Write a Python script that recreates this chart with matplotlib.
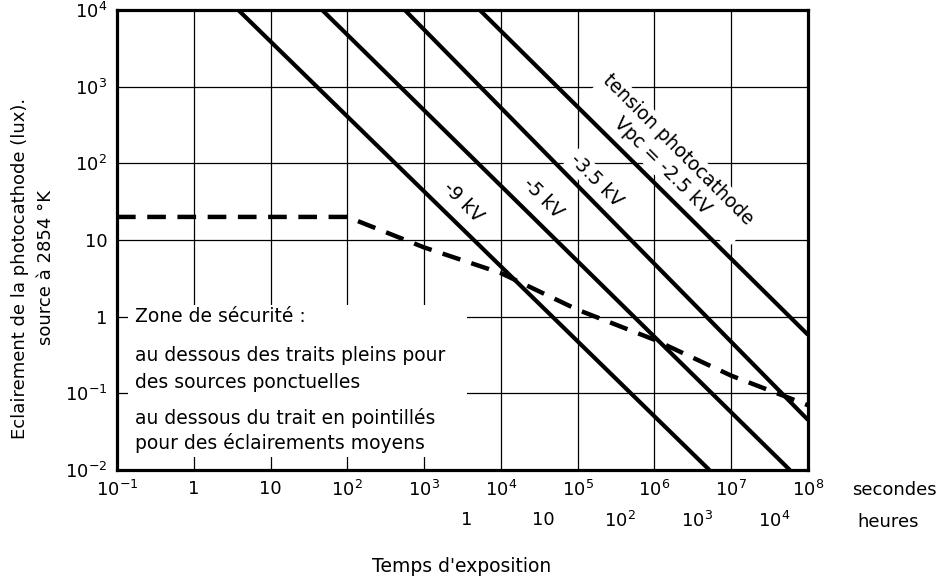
import matplotlib
matplotlib.use("Agg")
import matplotlib.pyplot as plt
from matplotlib.patches import Rectangle
from matplotlib.ticker import NullLocator

plt.rcParams['font.family'] = ['DejaVu Sans']
plt.rcParams['mathtext.default'] = 'regular'

# solid lines: limit for point sources, one per photocathode voltage
voltages = ['-9 kV', '-5 kV', '-3.5 kV', '-2.5 kV']
line_t_start = [3.8, 47, 560, 5300]
line_e_start = [1e4, 1e4, 1e4, 1e4]
line_t_end = [5.2e6, 5.8e7, 1e8, 1e8]
line_e_end = [1e-2, 1e-2, 0.045, 0.58]

# dashed line: limit for average illumination
avg_t = [0.1, 100, 1e3, 1e4, 1e5, 1e6, 1e7, 1e8]
avg_e = [20, 20, 8, 3.7, 1.23, 0.5, 0.17, 0.07]

x_ticks = [1e-1, 1, 10, 1e2, 1e3, 1e4, 1e5, 1e6, 1e7, 1e8]
x_labels = ['$10^{-1}$', '1', '10', '$10^{2}$', '$10^{3}$', '$10^{4}$',
            '$10^{5}$', '$10^{6}$', '$10^{7}$', '$10^{8}$']
h_ticks = [1, 10, 1e2, 1e3, 1e4]
h_labels = ['1', '10', '$10^{2}$', '$10^{3}$', '$10^{4}$']
y_ticks = [1e-2, 1e-1, 1, 10, 1e2, 1e3, 1e4]
y_labels = ['$10^{-2}$', '$10^{-1}$', '1', '10', '$10^{2}$', '$10^{3}$', '$10^{4}$']

fig = plt.figure(figsize=(9.46, 5.86), dpi=100)
ax = fig.add_axes([117 / 946, 1 - 470 / 586, 691 / 946, 460 / 586])
ax.set_xscale('log')
ax.set_yscale('log')
ax.set_xlim(1e-1, 1e8)
ax.set_ylim(1e-2, 1e4)

ax.set_axisbelow(True)
ax.grid(True, which='major', color='black', linewidth=0.9)
for s in ax.spines.values():
    s.set_linewidth(2.3)

ax.set_xticks(x_ticks)
ax.set_xticklabels(x_labels)
ax.set_yticks(y_ticks)
ax.set_yticklabels(y_labels)
ax.xaxis.set_minor_locator(NullLocator())
ax.yaxis.set_minor_locator(NullLocator())
ax.tick_params(length=0, labelsize=13, pad=7)

# hours scale under the seconds scale
sec = ax.secondary_xaxis(-0.07, functions=(lambda s: s / 3600, lambda h: h * 3600))
sec.set_xticks(h_ticks)
sec.set_xticklabels(h_labels)
sec.xaxis.set_minor_locator(NullLocator())
sec.tick_params(length=0, labelsize=13, pad=6)
sec.spines['bottom'].set_visible(False)

for i in range(len(voltages)):
    ax.plot([line_t_start[i], line_t_end[i]], [line_e_start[i], line_e_end[i]],
            color='black', linewidth=3, solid_capstyle='butt', zorder=3)

ax.plot(avg_t, avg_e, color='black', linewidth=3.2, dashes=(4.2, 2.6), zorder=3)

# white zone hiding the grid behind the notes
ax.add_patch(Rectangle((0.016, 0.028), 0.49, 0.331, transform=ax.transAxes,
                       facecolor='white', edgecolor='none', zorder=1))

notes = [("Zone de sécurité :", 0.333),
         ("au dessous des traits pleins pour", 0.248),
         ("des sources ponctuelles", 0.191),
         ("au dessous du trait en pointillés", 0.113),
         ("pour des éclairements moyens", 0.059)]
for txt, yy in notes:
    ax.text(0.026, yy, txt, transform=ax.transAxes, fontsize=13.5,
            ha='left', va='center', zorder=4)

box = dict(facecolor='white', edgecolor='none', pad=1.5)
lab_pos = [(3200, 31), (35000, 35), (1.73e5, 59)]
for i in range(3):
    ax.text(lab_pos[i][0], lab_pos[i][1], voltages[i], rotation=-45,
            rotation_mode='anchor', ha='center', va='center', fontsize=13.5,
            bbox=box, zorder=2)
ax.text(1.6e6, 117, "tension photocathode\nVpc = " + voltages[3], rotation=-45,
        rotation_mode='anchor', ha='center', va='center', fontsize=13.5,
        multialignment='center', linespacing=1.25, bbox=box, zorder=2)

fig.text(20 / 946, 1 - 268 / 586, "Eclairement de la photocathode (lux).",
         rotation=90, ha='center', va='center', fontsize=13)
fig.text(46 / 946, 1 - 268 / 586, "source à 2854 °K",
         rotation=90, ha='center', va='center', fontsize=13)
fig.text(852 / 946, 1 - 490 / 586, "secondes", ha='left', va='center', fontsize=13)
fig.text(857 / 946, 1 - 522 / 586, "heures", ha='left', va='center', fontsize=13)
fig.text(462 / 946, 1 - 567 / 586, "Temps d'exposition", ha='center', va='center',
         fontsize=13.5)

fig.savefig("out.png", dpi=100)
